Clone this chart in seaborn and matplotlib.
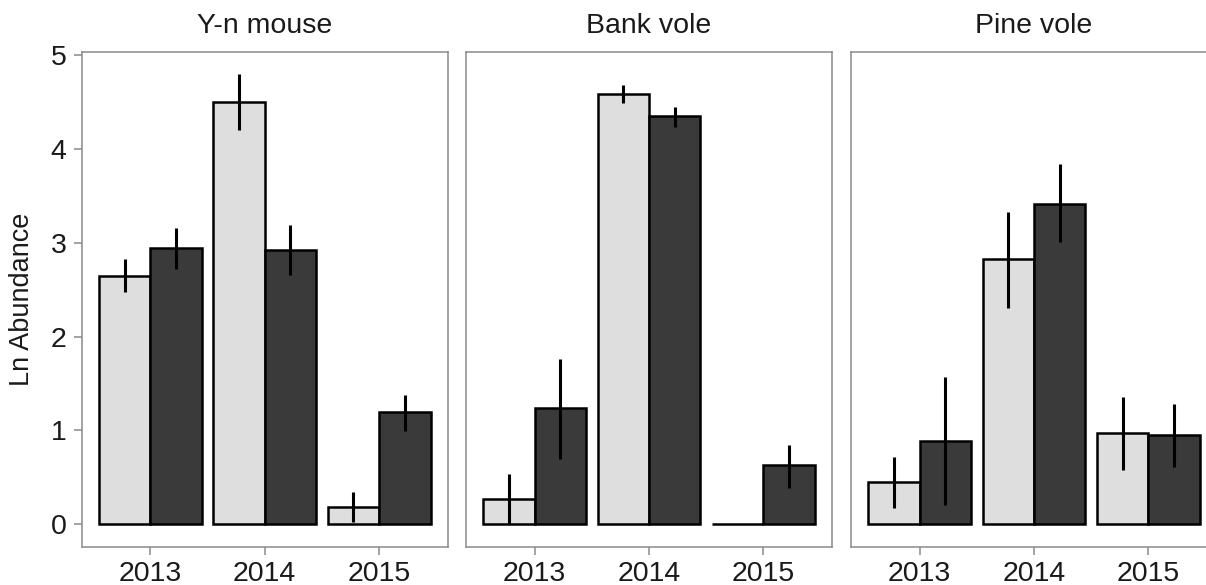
import matplotlib
matplotlib.use("Agg")
import matplotlib.pyplot as plt
import seaborn as sns
import pandas as pd

# Ln abundance per species, year and group (means with error-bar limits)
species = ["Y-n mouse", "Bank vole", "Pine vole"]
years = ["2013", "2014", "2015"]
groups = ["Group 1", "Group 2"]

# mean values, listed year by year: [group 1, group 2]
ynmouse_mean = [2.65, 2.95, 4.50, 2.93, 0.18, 1.20]
bankvole_mean = [0.27, 1.24, 4.59, 4.35, 0.00, 0.63]
pinevole_mean = [0.45, 0.89, 2.83, 3.42, 0.97, 0.95]

# lower / upper error-bar limits in the same order
ynmouse_lo = [2.48, 2.72, 4.20, 2.66, 0.02, 0.99]
ynmouse_hi = [2.83, 3.16, 4.80, 3.19, 0.34, 1.38]
bankvole_lo = [0.00, 0.70, 4.49, 4.24, 0.00, 0.39]
bankvole_hi = [0.54, 1.76, 4.69, 4.45, 0.00, 0.84]
pinevole_lo = [0.17, 0.21, 2.31, 3.01, 0.58, 0.61]
pinevole_hi = [0.72, 1.57, 3.33, 3.84, 1.36, 1.28]

y_ticks = [0, 1, 2, 3, 4, 5]

means = [ynmouse_mean, bankvole_mean, pinevole_mean]
lows = [ynmouse_lo, bankvole_lo, pinevole_lo]
highs = [ynmouse_hi, bankvole_hi, pinevole_hi]

rows = []
for sp, m, lo, hi in zip(species, means, lows, highs):
    k = 0
    for yr in years:
        for g in groups:
            rows.append({"species": sp, "year": yr, "group": g,
                         "value": m[k], "lo": lo[k], "hi": hi[k]})
            k += 1
df = pd.DataFrame(rows)

sns.set_theme(style="white")
plt.rcParams["font.family"] = ["Liberation Sans", "DejaVu Sans"]

W, H = 1206, 585
fig = plt.figure(figsize=(W / 100, H / 100), dpi=100)

frame_col = "#8a8a8a"
text_col = "#1a1a1a"
palette = {"Group 1": "#dedede", "Group 2": "#3a3a3a"}

panel_left_px = [81.7, 466.0, 851.0]
panel_w_px = 366.0
top_px, bottom_px = 51.7, 546.7

for i, sp in enumerate(species):
    ax = fig.add_axes([panel_left_px[i] / W, (H - bottom_px) / H,
                       panel_w_px / W, (bottom_px - top_px) / H])
    sub = df[df["species"] == sp]
    sns.barplot(data=sub, x="year", y="value", hue="group", order=years,
                hue_order=groups, palette=palette, errorbar=None,
                width=0.9, edgecolor="black", linewidth=1.8, ax=ax,
                legend=False, saturation=1)

    # error bars placed at the centre of each drawn bar
    for container, g in zip(ax.containers, groups):
        gsub = sub[sub["group"] == g].set_index("year").loc[years]
        xs = [p.get_x() + p.get_width() / 2 for p in container.patches]
        ax.vlines(xs, gsub["lo"].values, gsub["hi"].values,
                  color="black", linewidth=2.2, zorder=5)

    ax.set_xlim(-0.6, 2.6)
    ax.set_ylim(-0.24, 5.04)
    ax.set_xlabel("")
    ax.set_title(sp, fontsize=20.5, color=text_col, pad=13.5)

    for s in ax.spines.values():
        s.set_visible(True)
        s.set_color(frame_col)
        s.set_linewidth(1.1)

    ax.tick_params(axis="x", length=6, width=1.1, color=frame_col,
                   labelsize=20.5, labelcolor=text_col, pad=4, bottom=True)
    if i == 0:
        ax.set_yticks(y_ticks)
        ax.tick_params(axis="y", length=6, width=1.1, color=frame_col,
                       labelsize=20.5, labelcolor=text_col, pad=5, left=True)
        ax.set_ylabel("Ln Abundance", fontsize=19.5, color=text_col,
                      labelpad=11)
    else:
        ax.set_yticks([])
        ax.set_ylabel("")

fig.savefig("out.png", dpi=100)
